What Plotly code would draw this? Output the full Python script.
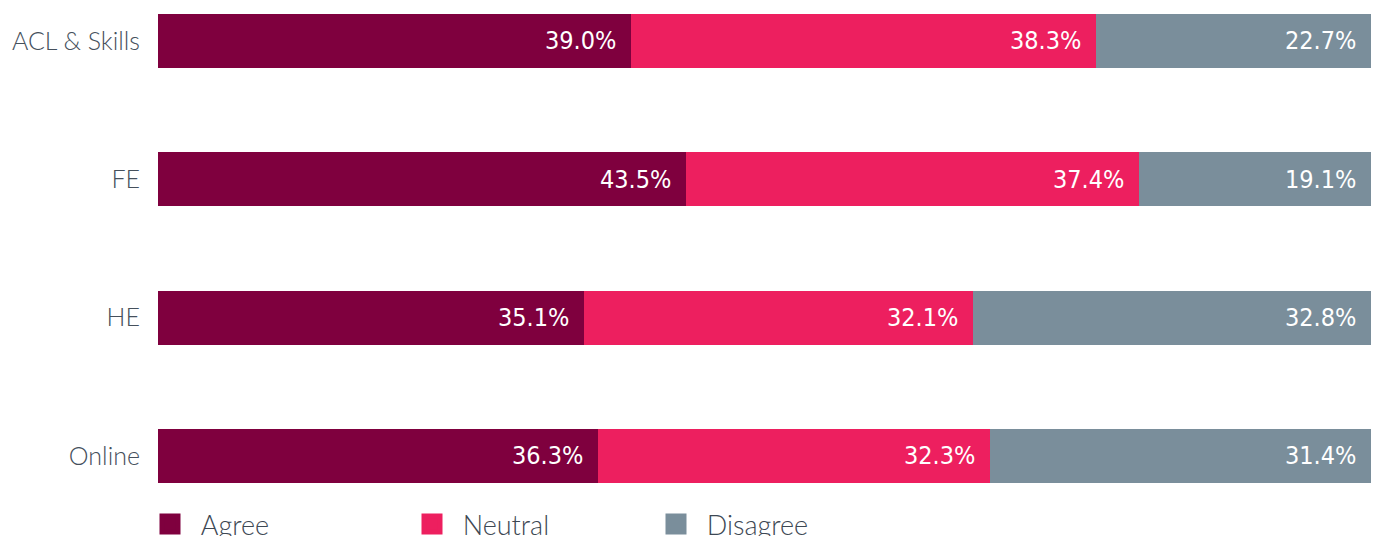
import plotly.graph_objects as go

# Survey response shares by provider type (percent)
categories = ["ACL & Skills", "FE", "HE", "Online"]
agree = [39.0, 43.5, 35.1, 36.3]
neutral = [38.3, 37.4, 32.1, 32.3]
disagree = [22.7, 19.1, 32.8, 31.4]

series = [
    ("Agree", agree, "#7f003e", "legend"),
    ("Neutral", neutral, "#ed1f5f", "legend2"),
    ("Disagree", disagree, "#7a8e9b", "legend3"),
]

W, H = 1376, 536
label_font = dict(family="Lato", size=25, color="#45505c", weight=300)
value_font = dict(family="DejaVu Sans Condensed, Roboto", size=25,
                  color="#ffffff")

fig = go.Figure()
for name, vals, color, _ in series:
    fig.add_trace(go.Bar(
        y=categories, x=vals, name=name, orientation="h",
        marker=dict(color=color, line=dict(width=0)),
        width=0.39, showlegend=False, hoverinfo="x+name",
    ))

# value labels at the inner end of each segment
annotations = []
for i, cat in enumerate(categories):
    running = 0.0
    for name, vals, color, _ in series:
        running += vals[i]
        annotations.append(dict(
            x=running, y=cat, xref="x", yref="y",
            text=f"{vals[i]:.1f}%", showarrow=False,
            xanchor="right", yanchor="middle", xshift=-13,
            font=value_font,
        ))

# legend entries, one legend per series so each can sit at its own spot
legend_x = {"legend": 150, "legend2": 412, "legend3": 656}
for name, vals, color, leg in series:
    fig.add_trace(go.Scatter(
        x=[None], y=[None], mode="markers", name="\u00a0\u2009" + name,
        marker=dict(symbol="square", size=16, color=color,
                    line=dict(color=color, width=5)),
        legend=leg, showlegend=True, hoverinfo="skip",
    ))

legend_common = dict(
    orientation="h", xref="container", yref="container",
    xanchor="left", yanchor="top", y=1 - 500 / H,
    font=dict(family="Lato", size=27, color="#3d4753", weight=300),
    bgcolor="rgba(0,0,0,0)", borderwidth=0, itemclick=False,
    itemdoubleclick=False,
)

fig.update_layout(
    width=W, height=H,
    barmode="stack",
    plot_bgcolor="white", paper_bgcolor="white",
    margin=dict(l=158, r=5, t=0, b=46),
    xaxis=dict(range=[0, 100], visible=False, fixedrange=True),
    yaxis=dict(
        type="category", categoryorder="array", categoryarray=categories,
        range=[3.246, -0.296], showgrid=False, zeroline=False,
        showline=False, ticks="", tickfont=label_font,
        ticklabelstandoff=17, fixedrange=True,
    ),
    annotations=annotations,
    legend=dict(x=legend_x["legend"] / W, **legend_common),
    legend2=dict(x=legend_x["legend2"] / W, **legend_common),
    legend3=dict(x=legend_x["legend3"] / W, **legend_common),
)

fig.write_html("out.html")
